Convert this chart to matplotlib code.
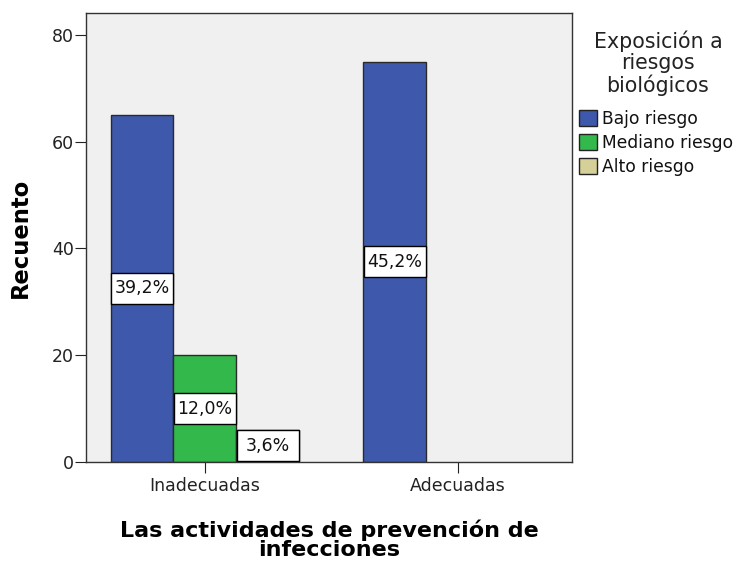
import matplotlib
matplotlib.use("Agg")
import matplotlib.pyplot as plt
from matplotlib.patches import Patch, Rectangle
import numpy as np

categories = ["Inadecuadas", "Adecuadas"]
series = ["Bajo riesgo", "Mediano riesgo", "Alto riesgo"]
counts = {
    "Bajo riesgo": [65, 75],
    "Mediano riesgo": [20, 0],
    "Alto riesgo": [6, 0],
}
pct_labels = {
    "Bajo riesgo": ["39,2%", "45,2%"],
    "Mediano riesgo": ["12,0%", None],
    "Alto riesgo": ["3,6%", None],
}
colors = {"Bajo riesgo": "#3E58AC", "Mediano riesgo": "#33B84B", "Alto riesgo": "#D5CF98"}
yticks = [0, 20, 40, 60, 80]
legend_title = "Exposición a\nriesgos\nbiológicos"

plt.rcParams['font.family'] = ['DejaVu Sans']
fig = plt.figure(figsize=(7.36, 5.64), dpi=100)
ax = fig.add_axes([0.117, 0.181, 0.660, 0.796])
ax.set_facecolor("#F0F0F0")

w = 0.249
box_h = 5.8
x = np.arange(len(categories))
for i, s in enumerate(series):
    for j, c in enumerate(categories):
        v = counts[s][j]
        if v <= 0:
            continue
        xc = x[j] + (i - 1) * w
        ax.bar(xc, v, width=w, color=colors[s], edgecolor="#2a2a2a", linewidth=1, zorder=2)
        lab = pct_labels[s][j]
        if lab:
            bw = w * 0.98 if v > box_h else w * 0.84
            ax.add_patch(Rectangle((xc - bw / 2, v / 2 - box_h / 2), bw, box_h,
                                   facecolor="white", edgecolor="black", lw=1, zorder=3))
            ax.text(xc, v / 2, lab, ha="center", va="center", fontsize=12.5,
                    color="#111111", zorder=4)

ax.set_xlim(-0.470, 1.451)
ax.set_ylim(0, 84.1)
ax.set_yticks(yticks)
ax.set_xticks(x)
ax.set_xticklabels(categories, fontsize=12.5, color="#222222")
ax.tick_params(axis="y", labelsize=12.5, length=8, pad=1, colors="#222222")
ax.tick_params(axis="x", length=8, pad=3, colors="#222222")
for sp in ax.spines.values():
    sp.set_color("#333333")
    sp.set_linewidth(1)

ax.set_ylabel("Recuento", fontsize=16.3, fontweight="bold", labelpad=14)
ax.set_xlabel("Las actividades de prevención de\ninfecciones", fontsize=16, fontweight="bold",
              labelpad=17.5, linespacing=0.95)

fig.text(0.894, 1 - 30 / 564, legend_title, ha="center", va="top", fontsize=14.8,
         color="#222222", multialignment="center", linespacing=1.08)

handles = [Patch(facecolor=colors[s], edgecolor="#222222", label=s) for s in series]
leg = fig.legend(handles=handles, loc="upper left", bbox_to_anchor=(0.787, 1 - 110 / 564),
                 frameon=False, fontsize=12.3, handlelength=1.06, handleheight=1.06,
                 handletextpad=0.28, labelspacing=0.36, borderpad=0, borderaxespad=0)
for t in leg.get_texts():
    t.set_color("#111111")

fig.savefig("out.png", dpi=100)
